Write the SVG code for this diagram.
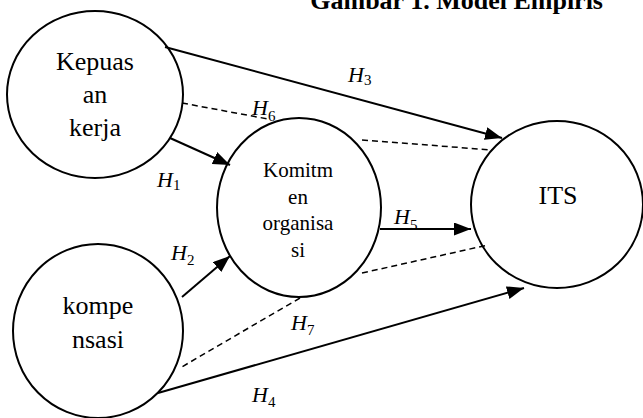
<svg xmlns="http://www.w3.org/2000/svg" width="643" height="418" viewBox="0 0 643 418">
<style>
.node{fill:none;stroke:#000;stroke-width:2}
.lbl{font-family:"Liberation Serif","Times New Roman",serif;font-size:26px;fill:#000;text-anchor:middle}
.its{font-family:"Liberation Serif","Times New Roman",serif;font-size:26px;fill:#000;text-anchor:middle}
.kom{font-family:"Liberation Serif","Times New Roman",serif;font-size:21px;fill:#000;text-anchor:middle}
.title{font-family:"Liberation Serif","Times New Roman",serif;font-size:26px;font-weight:bold;fill:#000;text-anchor:end}
.arr{stroke:#000;stroke-width:2;fill:none;marker-end:url(#ah)}
.dash{stroke:#000;stroke-width:1.5;fill:none;stroke-dasharray:6 4}
.h{font-family:"Liberation Serif","Times New Roman",serif;font-size:22px;font-style:italic;fill:#000}
.sub{font-style:normal;font-size:15px}
</style>
<defs>
<marker id="ah" markerUnits="userSpaceOnUse" markerWidth="18" markerHeight="14" refX="17" refY="6.5" orient="auto">
<path d="M0,0 L17,6.5 L0,13 Z" fill="#000"/>
</marker>
</defs>
<text class="title" x="603" y="9">Gambar 1. Model Empiris</text>
<g id="connectors">
<line class="arr" x1="165" y1="47" x2="502" y2="138"/>
<line class="arr" x1="170" y1="138" x2="230" y2="165"/>
<line class="arr" x1="182" y1="297" x2="230" y2="256"/>
<line class="arr" x1="380" y1="229" x2="471" y2="229"/>
<line class="arr" x1="158" y1="393" x2="524" y2="288"/>
<line class="dash" x1="182" y1="103" x2="268" y2="119"/>
<line class="dash" x1="362" y1="140" x2="492" y2="150"/>
<line class="dash" x1="362" y1="273" x2="488" y2="245"/>
<line class="dash" x1="300" y1="298" x2="180" y2="368"/>
<text class="h" x="348" y="82">H<tspan class="sub" dy="3">3</tspan></text>
<text class="h" x="252" y="115">H<tspan class="sub" dy="6">6</tspan></text>
<text class="h" x="157" y="187">H<tspan class="sub" dy="3">1</tspan></text>
<text class="h" x="171" y="260">H<tspan class="sub" dy="5">2</tspan></text>
<text class="h" x="394" y="224">H<tspan class="sub" dy="6">5</tspan></text>
<text class="h" x="291" y="330">H<tspan class="sub" dy="5">7</tspan></text>
<text class="h" x="252" y="402">H<tspan class="sub" dy="5">4</tspan></text>
</g>
<g id="kepuasan-kerja">
<ellipse class="node" cx="95" cy="94.5" rx="88" ry="83.5"/>
<text class="lbl" x="95" y="70">Kepuas</text>
<text class="lbl" x="95" y="103">an</text>
<text class="lbl" x="95" y="136">kerja</text>
</g>
<g id="komitmen-organisasi">
<ellipse class="node" cx="299" cy="207.5" rx="82" ry="89.5"/>
<text class="kom" x="298" y="177">Komitm</text>
<text class="kom" x="298" y="204">en</text>
<text class="kom" x="298" y="230">organisa</text>
<text class="kom" x="298" y="257">si</text>
</g>
<g id="its">
<ellipse class="node" cx="557" cy="204.5" rx="86" ry="83.5"/>
<text class="its" x="558" y="204">ITS</text>
</g>
<g id="kompensasi">
<ellipse class="node" cx="98" cy="331" rx="85" ry="87"/>
<text class="lbl" x="98" y="314">kompe</text>
<text class="lbl" x="98" y="348">nsasi</text>
</g>
</svg>
